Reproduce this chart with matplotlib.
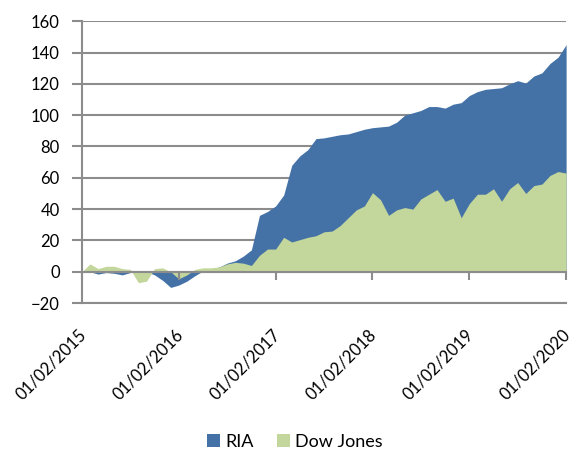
import matplotlib
matplotlib.use("Agg")
import matplotlib.pyplot as plt
import matplotlib.transforms as mtransforms
import numpy as np

plt.rcParams["font.family"] = ["Lato", "DejaVu Sans"]

# monthly data, 01/02/2015 .. 01/02/2020
ria = [0, 0, -1.5, -0.5, -1, -2, -0.5, 0, 0, -2,
       -5.5, -10, -8.5, -6, -2.5, 0.5, 2, 3, 5.5, 7,
       10, 14, 36, 38.5, 42, 49, 68, 74, 78, 85,
       85.5, 86.5, 87.5, 88, 89.5, 91, 92, 92.5, 93, 95.5,
       100, 101.5, 103, 105.5, 105.5, 104.5, 107, 108, 112.5, 115,
       116.5, 117, 117.5, 120, 122, 120.5, 125, 127, 133, 137,
       145]
dow = [0, 5, 2, 3.5, 3.5, 2, 1.5, -7, -6, 2,
       2.5, 0, -4.5, -2, 1.5, 2.5, 2.5, 3, 5, 6,
       5.5, 4, 10.5, 14.5, 14.5, 22, 19, 20.5, 22, 23,
       25.5, 26, 29.5, 34.5, 39.5, 42, 50.5, 46, 36, 39.5,
       41, 40, 46.5, 49.5, 52.5, 45, 47, 34.5, 43.5, 49.5,
       49.5, 53, 45, 53, 57, 50, 55, 56, 61.5, 64,
       63]
tick_labels = ["01/02/2015", "01/02/2016", "01/02/2017",
               "01/02/2018", "01/02/2019", "01/02/2020"]

x = np.arange(len(ria))
blue = "#4472a7"
green = "#c3d69b"
grid = "#8c8c8c"

fig = plt.figure(figsize=(5.73, 4.51), dpi=100)
ax = fig.add_axes([0.143, 0.328, 0.845, 0.625])

ax.fill_between(x, 0, ria, color=blue, lw=0, label="RIA", zorder=2)
ax.fill_between(x, 0, dow, color=green, lw=0, label="Dow Jones", zorder=3)

ax.set_xlim(0, 60)
ax.set_ylim(-20, 160)
ax.set_yticks(range(-20, 161, 20))
ax.yaxis.grid(True, color=grid, lw=1.5, zorder=0)
ax.set_axisbelow(True)

for s in ["top", "right"]:
    ax.spines[s].set_visible(False)
ax.spines["left"].set_color(grid)
ax.spines["left"].set_linewidth(1.5)
ax.spines["bottom"].set_color(grid)
ax.spines["bottom"].set_linewidth(1.5)
ax.tick_params(axis="y", colors=grid, length=7, width=1.5, labelsize=12,
               labelcolor="black", pad=9)

ax.set_xticks(range(0, 61, 12))
ax.set_xticklabels(tick_labels, rotation=45, ha="right",
                   rotation_mode="anchor", fontsize=12)
ax.tick_params(axis="x", length=0, pad=17)
shift = mtransforms.ScaledTranslation(-4 / 100, 0, fig.dpi_scale_trans)
for lab in ax.get_xticklabels():
    lab.set_transform(lab.get_transform() + shift)

# category axis crosses at zero
sec = ax.secondary_xaxis(20 / 180)
sec.set_zorder(5)
sec.set_xticks(range(0, 61, 12))
sec.set_xticklabels([])
sec.tick_params(axis="x", colors=grid, length=6, width=1.5)
sec.spines["bottom"].set_color(grid)
sec.spines["bottom"].set_linewidth(1.5)

fig.legend(loc="center", bbox_to_anchor=(0.515, 9 / 451), ncol=2, frameon=False,
           fontsize=13, handlelength=0.7, handleheight=0.7, handletextpad=0.3,
           columnspacing=1.3)

fig.savefig("out.png", dpi=100)
